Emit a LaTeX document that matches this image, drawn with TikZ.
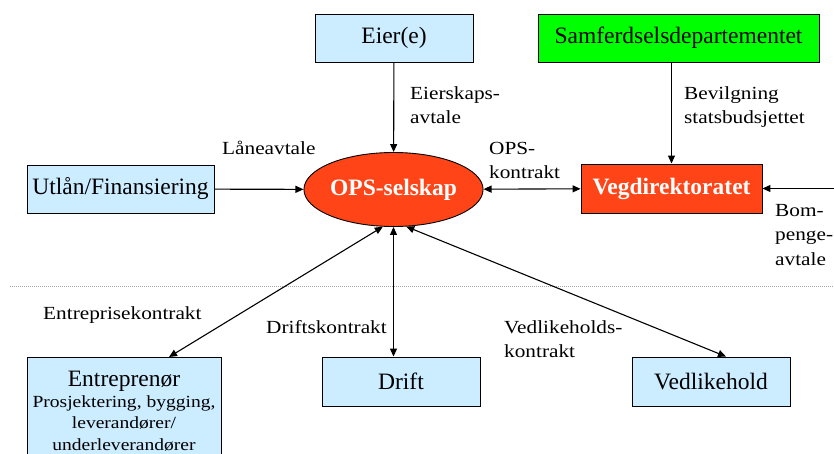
\documentclass[tikz,border=0pt]{standalone}
\usepackage{fontspec}
\setmainfont{Liberation Serif}
\newfontfamily\labelfont[FakeStretch=1.15]{Liberation Serif}
\usetikzlibrary{arrows.meta,shapes.geometric}
\definecolor{boxblue}{HTML}{CCECFF}
\definecolor{deptgreen}{HTML}{00FF00}
\definecolor{opsred}{HTML}{FF4517}

\begin{document}
\begin{tikzpicture}[x=1pt,y=-1pt,>={Triangle[length=8pt,width=7pt]},
    box/.style={draw,line width=0.9pt,fill=boxblue,inner sep=0pt,
                font=\fontsize{23.5}{26}\selectfont},
    lbl/.style={anchor=base west,inner sep=0pt,align=left,
                font=\labelfont\fontsize{18.5}{24}\selectfont},
    every edge/.style={draw,line width=1.1pt}]
  \useasboundingbox (0,0) rectangle (834,454);

  % dotted separator
  \coordinate (dotl) at (10,286);
  \coordinate (dotr) at (834,286);
  \draw[densely dotted,gray!70,line width=1pt] (dotl) -- (dotr);

  \node[box,minimum width=158pt,minimum height=48pt]                (eier)  at (394,38)    {Eier(e)};
  \node[box,fill=deptgreen,minimum width=281pt,minimum height=48pt] (samf)  at (678.5,38)  {Samferdselsdepartementet};
  \node[box,minimum width=187pt,minimum height=48pt]                (utlan) at (120.5,189) {Utlån/Finansiering};
  \node[ellipse,draw,line width=0.9pt,fill=opsred,text=white,inner sep=0pt,
        minimum width=173pt,minimum height=74pt,
        font=\bfseries\fontsize{23.5}{26}\selectfont]               (ops)   at (393.5,189.5) {OPS-selskap};
  \node[box,fill=opsred,text=white,minimum width=181pt,minimum height=49pt,
        font=\bfseries\fontsize{23.5}{26}\selectfont]               (veg)   at (671.5,188.5) {Vegdirektoratet};
  \node[box,anchor=north,minimum width=194pt,inner ysep=14pt,align=center,
        font=\labelfont\fontsize{17}{21.5}\selectfont]              (entr)  at (124,357)
        {{\rmfamily\fontsize{23.5}{26}\selectfont Entreprenør}\\[-1pt]
         Prosjektering, bygging,\\ leverandører/\\ underleverandører};
  \node[box,minimum width=158pt,minimum height=49pt]                (drift) at (401,381.5) {Drift};
  \node[box,minimum width=158pt,minimum height=49pt]                (vedl)  at (711,381.5) {Vedlikehold};

  % labels: anchored at the baseline of their last line
  \node[lbl] (eiavt)  at (410,124) {Eierskaps-\\avtale};
  \node[lbl] (lanavt) at (222,155) {Låneavtale};
  \node[lbl] (opskon) at (489,179) {OPS-\\kontrakt};
  \node[lbl] (bevilg) at (684,124) {Bevilgning\\statsbudsjettet};
  \node[lbl] (bomavt) at (775,265) {Bom-\\penge-\\avtale};
  \node[lbl] (entkon) at (43,319)  {Entreprisekontrakt};
  \node[lbl] (drikon) at (266,333) {Driftskontrakt};
  \node[lbl] (vedkon) at (504,357) {Vedlikeholds-\\kontrakt};

  \coordinate (bomin) at (834,188.5);

  \path (eier)     edge [->]  (ops)
        (utlan)    edge [->]  (ops)
        (ops)      edge [<->] (veg)
        (veg.north |- samf.south) edge [->] (veg.north)
        (bomin)    edge [->]  (veg)
        (ops.-106) edge [<->] ([xshift=45pt]entr.north)
        (ops.south) edge [<->] (ops.south |- drift.north)
        (ops.-71)  edge [<->] ([xshift=15pt]vedl.north);
\end{tikzpicture}
\end{document}
